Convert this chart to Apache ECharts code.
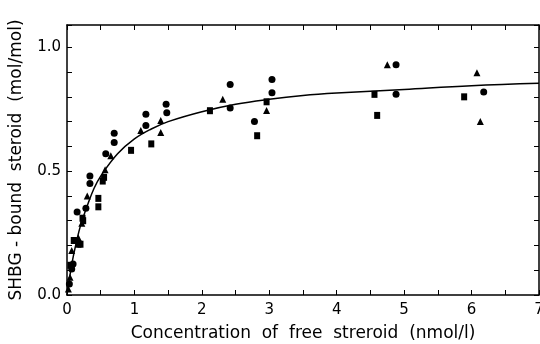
<!DOCTYPE html>
<html>
<head>
<meta charset="utf-8">
<script src="https://cdn.jsdelivr.net/npm/echarts@6/dist/echarts.min.js"></script>
<style>
  html, body { margin: 0; padding: 0; background: #fff; }
  #chart { width: 540px; height: 344px; }
</style>
</head>
<body>
<div id="chart"></div>
<script>
// measured points [free steroid, bound steroid]
const circlePts = [
  [0.035, 0.044], [0.07, 0.105], [0.09, 0.125], [0.12, 0.22], [0.15, 0.335],
  [0.28, 0.35], [0.34, 0.48], [0.34, 0.45], [0.575, 0.57], [0.70, 0.653],
  [0.70, 0.616], [1.17, 0.73], [1.17, 0.684], [1.47, 0.77], [1.48, 0.736],
  [2.42, 0.85], [2.42, 0.755], [2.78, 0.70], [3.04, 0.87], [3.04, 0.816],
  [4.88, 0.93], [4.88, 0.81], [6.18, 0.82]
]
const trianglePts = [
  [0.02, 0.024], [0.045, 0.072], [0.07, 0.18], [0.17, 0.23], [0.22, 0.29],
  [0.30, 0.40], [0.565, 0.506], [0.65, 0.562], [1.095, 0.664], [1.39, 0.704],
  [1.39, 0.656], [2.31, 0.79], [2.96, 0.745], [4.75, 0.93], [6.08, 0.897],
  [6.13, 0.70]
]
const squarePts = [
  [0.05, 0.12], [0.10, 0.22], [0.17, 0.205], [0.20, 0.205], [0.23, 0.31],
  [0.24, 0.30], [0.465, 0.39], [0.465, 0.356], [0.53, 0.46], [0.55, 0.475],
  [0.95, 0.584], [1.25, 0.61], [2.12, 0.744], [2.82, 0.643], [2.96, 0.78],
  [4.56, 0.81], [4.60, 0.725], [5.89, 0.80]
]
// fitted curve
const curveX = [0, 0.05, 0.1, 0.2, 0.3, 0.4, 0.5, 0.75, 1, 1.25, 1.5, 2, 2.5, 3, 3.5, 4, 5, 6, 7]
const curveY = [0, 0.09, 0.165, 0.28, 0.36, 0.43, 0.48, 0.57, 0.63, 0.67, 0.70, 0.74, 0.77, 0.79, 0.805, 0.815, 0.83, 0.845, 0.855]

const font = 'DejaVu Sans'
const ink = '#000'

const chart = echarts.init(document.getElementById('chart'))

const baseX = {
  type: 'value', min: 0, max: 7, interval: 1,
  axisLine: { show: true, onZero: false, lineStyle: { color: ink, width: 1.5 } },
  axisTick: { show: true, inside: true, length: 5, lineStyle: { color: ink } },
  minorTick: { show: true, splitNumber: 2, length: 5, lineStyle: { color: ink } },
  splitLine: { show: false }
}
const baseY = {
  type: 'value', min: 0, max: 1.09, interval: 0.5,
  axisLine: { show: true, onZero: false, lineStyle: { color: ink, width: 1.5 } },
  axisTick: { show: true, inside: true, length: 5, lineStyle: { color: ink } },
  minorTick: { show: true, splitNumber: 5, length: 5, lineStyle: { color: ink } },
  splitLine: { show: false }
}

chart.setOption({
  animation: false,
  backgroundColor: '#fff',
  grid: { left: 67, width: 472, top: 25, bottom: 49, outerBoundsMode: 'none', containLabel: false },
  xAxis: [
    Object.assign({}, baseX, {
      position: 'bottom',
      name: 'Concentration  of  free  streroid  (nmol/l)',
      nameLocation: 'middle',
      nameGap: 30,
      nameTextStyle: { fontFamily: font, fontSize: 17, color: ink },
      axisLabel: { fontFamily: font, fontSize: 15, color: ink, margin: 8, showMaxLabel: true, hideOverlap: false }
    }),
    Object.assign({}, baseX, { position: 'top', axisLabel: { show: false } })
  ],
  yAxis: [
    Object.assign({}, baseY, {
      position: 'left',
      name: 'SHBG - bound  steroid  (mol/mol)',
      nameLocation: 'middle',
      nameGap: 42,
      nameTextStyle: { fontFamily: font, fontSize: 17, color: ink },
      axisLabel: {
        fontFamily: font, fontSize: 15, color: ink, margin: 6, showMaxLabel: false,
        formatter: v => (Math.abs(v * 2 - Math.round(v * 2)) < 1e-6 ? v.toFixed(1) : '')
      }
    }),
    Object.assign({}, baseY, { position: 'right', axisLabel: { show: false } })
  ],
  series: [
    {
      type: 'line', smooth: 0.4, showSymbol: false,
      data: curveX.map((x, i) => [x, curveY[i]]),
      lineStyle: { color: ink, width: 1.5 }
    },
    { type: 'scatter', symbol: 'circle', symbolSize: 7, itemStyle: { color: ink, opacity: 1 }, data: circlePts },
    { type: 'scatter', symbol: 'triangle', symbolSize: 7, itemStyle: { color: ink, opacity: 1 }, data: trianglePts },
    { type: 'scatter', symbol: 'rect', symbolSize: [6, 7], itemStyle: { color: ink, opacity: 1 }, data: squarePts }
  ]
})
</script>
</body>
</html>
